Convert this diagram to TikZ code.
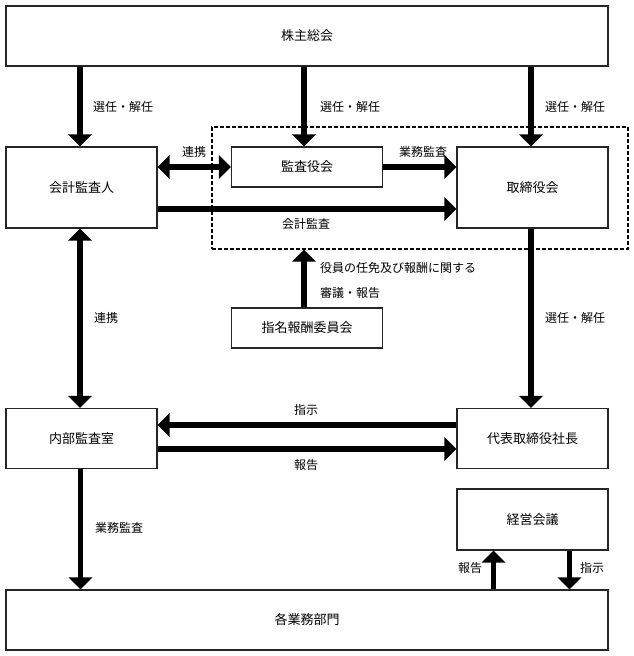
\documentclass[tikz,border=0pt]{standalone}
\usepackage{fontspec}
\setmainfont{Noto Sans CJK JP}
\usetikzlibrary{arrows.meta,calc}
\begin{document}
\begin{tikzpicture}[x=1pt,y=-1pt,
  box/.style={draw=black!85,line width=1.2pt,fill=white,inner sep=0pt,font=\fontsize{13pt}{15pt}\selectfont},
  arr/.style={line width=5.5pt,-{Triangle[width=23pt,length=12pt]}},
  darr/.style={line width=5.5pt,{Triangle[width=23pt,length=12pt]}-{Triangle[width=23pt,length=12pt]}},
  lbl/.style={font=\fontsize{12pt}{14pt}\selectfont,inner sep=0pt},
  grp/.style={draw=black,dash pattern=on 4pt off 2pt,line width=1.1pt,inner sep=0pt}]
\useasboundingbox (0,0) rectangle (633,656);
% group
\node[grp,minimum width=416pt,minimum height=122pt] (grp) at (420,188) {};
% boxes
\node[box,minimum width=602pt,minimum height=60pt] (kabu) at (307,36) {株主総会};
\node[box,minimum width=151pt,minimum height=81pt] (kaikei) at (81.5,187.5) {会計監査人};
\node[box,minimum width=151pt,minimum height=40pt] (kansa) at (307,167) {監査役会};
\node[box,minimum width=151pt,minimum height=81pt] (tori) at (532.5,187.5) {取締役会};
\node[box,minimum width=151pt,minimum height=40pt] (shimei) at (307,328) {指名報酬委員会};
\node[box,minimum width=151pt,minimum height=60pt] (naibu) at (81.5,438.5) {内部監査室};
\node[box,minimum width=151pt,minimum height=60pt] (daihyo) at (532.5,438.5) {代表取締役社長};
\node[box,minimum width=151pt,minimum height=61pt] (keiei) at (532.5,519.5) {経営会議};
\node[box,minimum width=602pt,minimum height=60pt] (kaku) at (307,620) {各業務部門};
% arrows from 株主総会
\draw[arr] (kabu.south -| kaikei.north) ++(-1.5,0) coordinate (a1) -- (a1 |- kaikei.north);
\draw[arr] (kabu.south -| kansa.north) ++(-3,0) coordinate (a2) -- (a2 |- kansa.north);
\draw[arr] (kabu.south -| tori.north) ++(-1.5,0) coordinate (a3) -- (a3 |- tori.north);
\node[lbl] (l1) at (123,107) {選任・解任};
\node[lbl] (l2) at (350,107) {選任・解任};
\node[lbl] (l3) at (575,107) {選任・解任};
% row 2
\draw[darr] (kansa.west -| kaikei.east) -- (kansa.west);
\node[lbl] (l4) at (194,152) {連携};
\draw[arr] (kansa.east) -- (kansa.east -| tori.west);
\node[lbl] (l5) at (423,152) {業務監査};
\draw[arr] ([yshift=-21.5pt]kaikei.east) coordinate (a4) -- (a4 -| tori.west);
\node[lbl] (l6) at (306,224) {会計監査};
% 指名報酬委員会
\draw[arr] (shimei.north) ++(-3,0) coordinate (a5) -- (a5 |- grp.south);
\node[lbl,anchor=west] (l7) at (320,268) {役員の任免及び報酬に関する};
\node[lbl,anchor=west] (l8) at (320,293) {審議・報告};
% verticals
\draw[darr] ([xshift=-1.5pt]kaikei.south) coordinate (a6) -- (a6 |- naibu.north);
\node[lbl] (l9) at (106,318) {連携};
\draw[arr] ([xshift=-1.5pt]tori.south) coordinate (a7) -- (a7 |- daihyo.north);
\node[lbl] (l10) at (575,318) {選任・解任};
% row 4
\draw[arr] ([yshift=13.5pt]daihyo.west) coordinate (a8) -- (a8 -| naibu.east);
\node[lbl] (l11) at (306,410) {指示};
\draw[arr] ([yshift=-10.5pt]naibu.east) coordinate (a9) -- (a9 -| daihyo.west);
\node[lbl] (l12) at (306,465) {報告};
% bottom
\draw[arr] ([xshift=-1pt]naibu.south) coordinate (a10) -- (a10 |- kaku.north);
\node[lbl] (l13) at (119,528) {業務監査};
\draw[arr] ([xshift=-39pt]kaku.north -| keiei.south) coordinate (a11) -- (a11 |- keiei.south);
\node[lbl] (l14) at (470,568) {報告};
\draw[arr] ([xshift=37pt]keiei.south) coordinate (a12) -- (a12 |- kaku.north);
\node[lbl] (l15) at (592,568) {指示};
\end{tikzpicture}
\end{document}
